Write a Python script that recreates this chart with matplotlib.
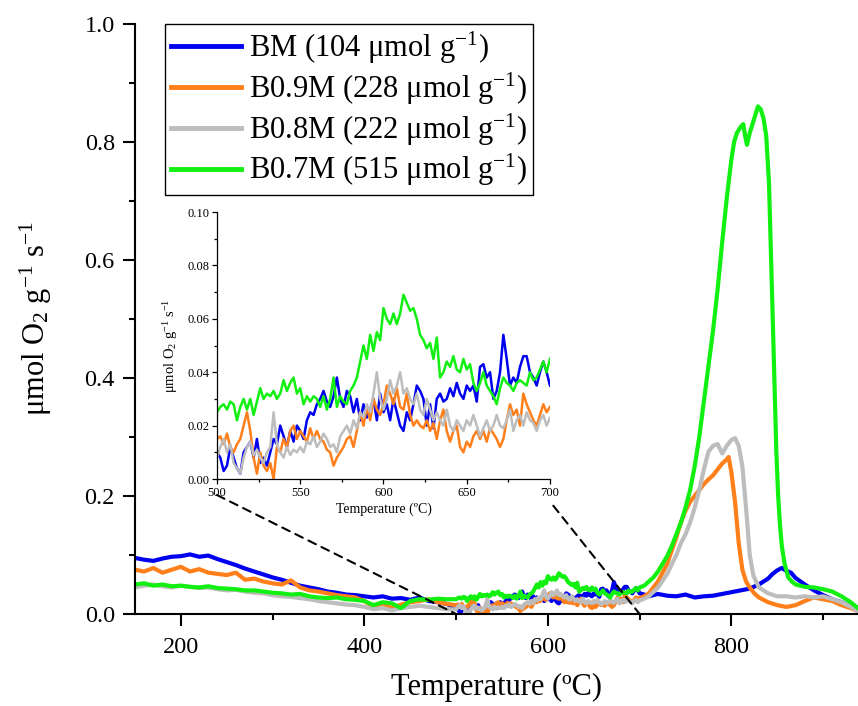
import numpy as np
import matplotlib
matplotlib.use("Agg")
import matplotlib.pyplot as plt
from matplotlib.patches import ConnectionPatch
from matplotlib.ticker import MultipleLocator

plt.rcParams["font.family"] = "serif"
plt.rcParams["font.serif"] = ["Liberation Serif", "DejaVu Serif"]
plt.rcParams["mathtext.fontset"] = "custom"
plt.rcParams["mathtext.rm"] = "Liberation Serif"
plt.rcParams["mathtext.it"] = "Liberation Serif:italic"
plt.rcParams["mathtext.default"] = "regular"

# ---------------------------------------------------------------------------
# data: low-T grid, inset grid, per-series high-T
# ---------------------------------------------------------------------------
T_LOW = np.arange(150, 500, 10)      # 150..490
T_MID = np.arange(500, 702, 2)       # 500..700 (inset range)

LABELS = ["BM (104 μmol g$^{-1}$)", "B0.9M (228 μmol g$^{-1}$)",
          "B0.8M (222 μmol g$^{-1}$)", "B0.7M (515 μmol g$^{-1}$)"]

bm_low = [0.095, 0.092, 0.090, 0.094, 0.097, 0.098, 0.101, 0.097, 0.099, 0.093,
          0.088, 0.083, 0.077, 0.072, 0.067, 0.062, 0.058, 0.053, 0.048, 0.045,
          0.042, 0.038, 0.036, 0.033, 0.032, 0.030, 0.028, 0.030, 0.026, 0.027,
          0.024, 0.028, 0.022, 0.020, 0.017]
bm_mid = [0.010, 0.008, 0.003, 0.005, 0.012, 0.008, 0.004, 0.002, 0.010, 0.012,
          0.014, 0.008, 0.015, 0.006, 0.008, 0.005, 0.010, 0.015, 0.013, 0.020,
          0.016, 0.012, 0.018, 0.014, 0.020, 0.018, 0.015, 0.022, 0.025, 0.024,
          0.028, 0.030, 0.033, 0.029, 0.027, 0.031, 0.038, 0.030, 0.027, 0.033,
          0.031, 0.025, 0.030, 0.022, 0.028, 0.023, 0.026, 0.030, 0.022, 0.032,
          0.025, 0.028, 0.022, 0.030, 0.025, 0.020, 0.018, 0.025, 0.022, 0.028,
          0.035, 0.033, 0.030, 0.020, 0.028, 0.019, 0.030, 0.032, 0.029, 0.030,
          0.034, 0.031, 0.036, 0.032, 0.030, 0.035, 0.033, 0.035, 0.029, 0.042,
          0.043, 0.038, 0.040, 0.030, 0.033, 0.040, 0.054, 0.045, 0.035, 0.038,
          0.036, 0.042, 0.046, 0.046, 0.040, 0.038, 0.035, 0.040, 0.044, 0.040,
          0.035]
bm_t_high = [705, 710, 720, 730, 740, 750, 760, 770, 780, 790, 800, 810, 820, 830,
             840, 845, 850, 855, 860, 865, 870, 880, 890, 900, 910, 920, 930, 938]
bm_high = [0.033, 0.030, 0.034, 0.031, 0.030, 0.033, 0.028, 0.030, 0.031, 0.034,
           0.037, 0.040, 0.043, 0.050, 0.060, 0.068, 0.074, 0.078, 0.073, 0.070,
           0.061, 0.050, 0.040, 0.032, 0.025, 0.020, 0.012, 0.005]

b09_low = [0.075, 0.072, 0.078, 0.070, 0.075, 0.080, 0.072, 0.076, 0.070, 0.068,
           0.066, 0.070, 0.058, 0.060, 0.055, 0.052, 0.050, 0.057, 0.045, 0.040,
           0.038, 0.035, 0.032, 0.030, 0.028, 0.022, 0.012, 0.018, 0.010, 0.016,
           0.020, 0.022, 0.025, 0.020, 0.017]
b09_mid = [0.015, 0.016, 0.013, 0.017, 0.012, 0.010, 0.013, 0.015, 0.020, 0.025,
           0.018, 0.008, 0.002, 0.010, 0.005, 0.003, 0.006, 0.000, 0.012, 0.010,
           0.015, 0.012, 0.018, 0.020, 0.015, 0.018, 0.016, 0.014, 0.019, 0.015,
           0.018, 0.015, 0.014, 0.011, 0.010, 0.005, 0.008, 0.010, 0.012, 0.015,
           0.016, 0.012, 0.018, 0.025, 0.020, 0.027, 0.022, 0.030, 0.026, 0.024,
           0.028, 0.035, 0.032, 0.028, 0.034, 0.027, 0.026, 0.032, 0.024, 0.020,
           0.022, 0.020, 0.019, 0.022, 0.018, 0.021, 0.015, 0.022, 0.026, 0.018,
           0.014, 0.018, 0.020, 0.012, 0.010, 0.014, 0.012, 0.016, 0.018, 0.015,
           0.018, 0.014, 0.019, 0.017, 0.015, 0.012, 0.015, 0.022, 0.028, 0.024,
           0.026, 0.020, 0.032, 0.028, 0.025, 0.022, 0.020, 0.024, 0.028, 0.025,
           0.027]
b09_t_high = [705, 710, 720, 730, 740, 745, 750, 755, 760, 765, 770, 775, 780, 785,
              790, 795, 797, 800, 804, 808, 812, 816, 820, 825, 830, 840, 850, 860,
              870, 880, 890, 900, 910, 920, 930, 938]
b09_high = [0.030, 0.035, 0.055, 0.085, 0.130, 0.155, 0.175, 0.190, 0.200, 0.210,
            0.220, 0.228, 0.235, 0.245, 0.255, 0.262, 0.266, 0.240, 0.190, 0.120,
            0.075, 0.055, 0.045, 0.035, 0.028, 0.020, 0.015, 0.012, 0.015, 0.022,
            0.028, 0.025, 0.022, 0.015, 0.010, 0.005]

b08_low = [0.045, 0.048, 0.050, 0.047, 0.045, 0.048, 0.046, 0.044, 0.045, 0.042,
           0.040, 0.041, 0.038, 0.036, 0.035, 0.032, 0.030, 0.029, 0.027, 0.025,
           0.022, 0.020, 0.018, 0.016, 0.015, 0.012, 0.008, 0.010, 0.006, 0.010,
           0.012, 0.014, 0.012, 0.010, 0.008]
b08_mid = [0.008, 0.012, 0.015, 0.010, 0.013, 0.006, 0.004, 0.002, 0.008, 0.012,
           0.014, 0.009, 0.011, 0.008, 0.006, 0.010, 0.012, 0.025, 0.013, 0.010,
           0.008, 0.012, 0.009, 0.011, 0.010, 0.012, 0.010, 0.014, 0.013, 0.016,
           0.012, 0.014, 0.017, 0.015, 0.012, 0.013, 0.010, 0.016, 0.018, 0.020,
           0.017, 0.022, 0.019, 0.025, 0.023, 0.028, 0.025, 0.032, 0.040, 0.030,
           0.026, 0.030, 0.037, 0.032, 0.035, 0.040, 0.032, 0.034, 0.030, 0.028,
           0.032, 0.026, 0.024, 0.030, 0.026, 0.022, 0.025, 0.022, 0.020, 0.026,
           0.020, 0.018, 0.022, 0.020, 0.018, 0.022, 0.020, 0.024, 0.020, 0.016,
           0.019, 0.022, 0.018, 0.020, 0.024, 0.020, 0.019, 0.022, 0.026, 0.018,
           0.022, 0.024, 0.020, 0.025, 0.022, 0.021, 0.018, 0.022, 0.024, 0.020,
           0.023]
b08_t_high = [705, 710, 720, 730, 740, 745, 750, 755, 760, 765, 770, 775, 780, 785,
              790, 795, 800, 804, 808, 812, 816, 820, 824, 830, 840, 850, 860, 870,
              880, 890, 900, 910, 920, 930, 938]
b08_high = [0.026, 0.030, 0.045, 0.068, 0.100, 0.120, 0.135, 0.155, 0.180, 0.210,
            0.245, 0.275, 0.285, 0.288, 0.272, 0.285, 0.295, 0.298, 0.285, 0.250,
            0.180, 0.100, 0.065, 0.045, 0.035, 0.030, 0.030, 0.028, 0.030, 0.028,
            0.030, 0.025, 0.020, 0.012, 0.005]

b07_low = [0.050, 0.052, 0.048, 0.050, 0.047, 0.048, 0.046, 0.045, 0.047, 0.044,
           0.043, 0.042, 0.040, 0.040, 0.038, 0.036, 0.035, 0.033, 0.034, 0.030,
           0.028, 0.027, 0.028, 0.025, 0.024, 0.022, 0.015, 0.020, 0.018, 0.010,
           0.022, 0.025, 0.024, 0.026, 0.025]
b07_mid = [0.025, 0.027, 0.028, 0.026, 0.029, 0.028, 0.022, 0.027, 0.030, 0.026,
           0.030, 0.024, 0.029, 0.034, 0.030, 0.032, 0.031, 0.033, 0.030, 0.032,
           0.037, 0.033, 0.036, 0.038, 0.032, 0.034, 0.028, 0.031, 0.029, 0.031,
           0.030, 0.027, 0.031, 0.026, 0.030, 0.038, 0.027, 0.031, 0.029, 0.028,
           0.033, 0.035, 0.038, 0.044, 0.050, 0.045, 0.054, 0.048, 0.055, 0.052,
           0.064, 0.060, 0.058, 0.062, 0.058, 0.062, 0.069, 0.066, 0.063, 0.064,
           0.060, 0.054, 0.052, 0.049, 0.051, 0.045, 0.053, 0.038, 0.040, 0.044,
           0.042, 0.046, 0.041, 0.040, 0.045, 0.041, 0.043, 0.036, 0.033, 0.036,
           0.040, 0.035, 0.033, 0.031, 0.028, 0.034, 0.038, 0.036, 0.035, 0.033,
           0.036, 0.037, 0.036, 0.035, 0.040, 0.037, 0.038, 0.041, 0.044, 0.040,
           0.045]
b07_t_high = [705, 710, 715, 720, 725, 730, 735, 740, 745, 750, 755, 760, 765, 770,
              775, 780, 785, 790, 795, 800, 803, 806, 810, 813, 815, 817, 820, 823,
              826, 829, 832, 835, 838, 841, 843, 845, 847, 849, 851, 853, 855, 858,
              862, 866, 870, 880, 890, 900, 910, 920, 930, 938]
b07_high = [0.048, 0.055, 0.062, 0.072, 0.085, 0.098, 0.115, 0.135, 0.155, 0.180,
            0.210, 0.250, 0.300, 0.360, 0.420, 0.480, 0.550, 0.630, 0.705, 0.770,
            0.800, 0.815, 0.825, 0.830, 0.810, 0.795, 0.815, 0.830, 0.845, 0.860,
            0.855, 0.840, 0.810, 0.730, 0.620, 0.505, 0.390, 0.275, 0.200, 0.150,
            0.115, 0.085, 0.062, 0.055, 0.050, 0.046, 0.045, 0.042, 0.038, 0.030,
            0.020, 0.010]

COLORS = ["#0000f0", "#ff7f1a", "#bdbdbd", "#11f011"]


def series(low, mid, t_high, high):
    t = np.concatenate([T_LOW, T_MID, t_high])
    v = np.concatenate([low, mid, high])
    return t, v


SERIES = [series(bm_low, bm_mid, bm_t_high, bm_high),
          series(b09_low, b09_mid, b09_t_high, b09_high),
          series(b08_low, b08_mid, b08_t_high, b08_high),
          series(b07_low, b07_mid, b07_t_high, b07_high)]

fig = plt.figure(figsize=(8.58, 7.06), dpi=100)
ax = fig.add_axes([0.1573, 0.1303, 0.8427, 0.836])
for (t, v), c, lab in zip(SERIES, COLORS, LABELS):
    ax.plot(t, v, color=c, lw=3.0, label=lab)
ax.set_xlim(150, 938)
ax.set_ylim(0, 1.0)
ax.spines["top"].set_visible(False)
ax.spines["right"].set_visible(False)
for s in ("left", "bottom"):
    ax.spines[s].set_linewidth(1.5)
ax.xaxis.set_major_locator(MultipleLocator(200))
ax.xaxis.set_minor_locator(MultipleLocator(100))
ax.yaxis.set_major_locator(MultipleLocator(0.2))
ax.yaxis.set_minor_locator(MultipleLocator(0.1))
ax.tick_params(which="major", direction="out", length=8.5, width=1.5, labelsize=17.5, pad=6)
ax.tick_params(axis="x", which="major", pad=8)
ax.tick_params(which="minor", direction="out", length=4, width=1.5)
ax.set_xlabel("Temperature (ºC)", fontsize=22, labelpad=11)
ax.set_ylabel("μmol O$_2$ g$^{-1}$ s$^{-1}$", fontsize=22, labelpad=22)

leg = ax.legend(loc="upper left", bbox_to_anchor=(0.0415, 1.0), fontsize=22,
                frameon=True, fancybox=False, edgecolor="k", framealpha=1,
                borderpad=0.2, handlelength=2.3, handletextpad=0.25,
                labelspacing=0.15, borderaxespad=0)
leg.get_frame().set_linewidth(1.0)
for h in leg.get_lines():
    h.set_linewidth(3.5)

# inset: zoom on 500-700 C
axin = fig.add_axes([0.2529, 0.3215, 0.3881, 0.3782])
for (t, v), c in zip(SERIES, COLORS):
    m = (t >= 500) & (t <= 700)
    axin.plot(t[m], v[m], color=c, lw=1.8)
axin.set_xlim(500, 700)
axin.set_ylim(0, 0.10)
axin.spines["top"].set_visible(False)
axin.spines["right"].set_visible(False)
for s in ("left", "bottom"):
    axin.spines[s].set_linewidth(0.9)
axin.xaxis.set_major_locator(MultipleLocator(50))
axin.xaxis.set_minor_locator(MultipleLocator(25))
axin.yaxis.set_major_locator(MultipleLocator(0.02))
axin.yaxis.set_minor_locator(MultipleLocator(0.01))
axin.tick_params(which="major", direction="out", length=3.5, width=0.9, labelsize=9, pad=2)
axin.tick_params(which="minor", direction="out", length=2, width=0.9)
axin.set_xlabel("Temperature (ºC)", fontsize=10, labelpad=3)
axin.set_ylabel("μmol O$_2$ g$^{-1}$ s$^{-1}$", fontsize=10.5, labelpad=5)

x0, x1 = axin.get_xlim()
for xb, xa in ((x0, (0.0, -0.06)), (x1, (1.01, -0.10))):
    con = ConnectionPatch(xyA=xa, coordsA=axin.transAxes, xyB=(xb, 0),
                          coordsB=ax.transData, ls=(0, (4, 3)), lw=1.5, color="k")
    fig.add_artist(con)

fig.savefig("out.png", dpi=100)
